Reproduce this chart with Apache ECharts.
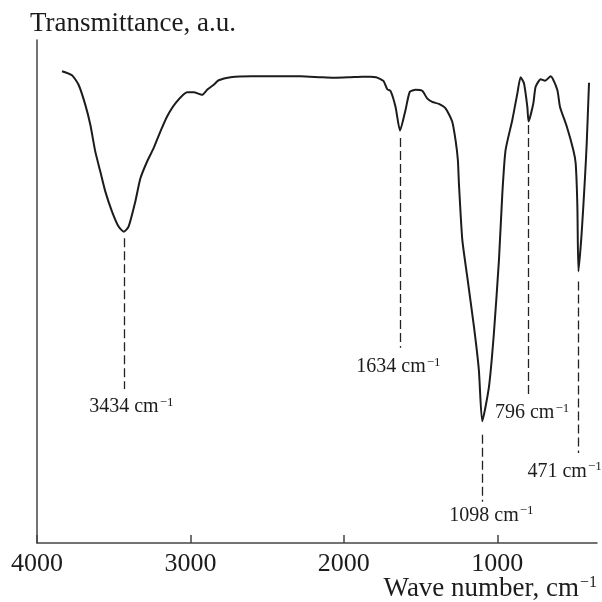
<!DOCTYPE html>
<html>
<head>
<meta charset="utf-8">
<script src="https://cdn.jsdelivr.net/npm/echarts@6/dist/echarts.min.js"></script>
<style>
html,body{margin:0;padding:0;background:#fff;}
#chart{width:602px;height:602px;}
</style>
</head>
<body>
<div id="chart"></div>
<script>
// Spectrum (wave number, cm^-1 ; transmittance, a.u.)
var waveNumbers = [3837,3772,3729,3685,3652,3620,3587,3555,3511,3468,3434,3403,3359,3326,3283,3240,3196,3152,3098,3022,2979,2924,2891,2848,2816,2739,2600,2450,2283,2150,2065,1957,1880,1826,1790,1761,1740,1717,1696,1663,1634,1598,1570,1533,1489,1457,1424,1381,1337,1294,1272,1257,1250,1228,1196,1152,1120,1098,1054,1022,989,967,946,902,869,848,826,804,796,765,750,717,689,652,609,591,547,504,489,478,471,450,428,417,402];
var transmittance = [93.8,93.0,91.1,87.1,83.1,77.8,73.8,69.9,65.9,62.9,61.9,62.9,67.9,72.5,75.8,78.5,81.8,84.8,87.4,89.6,89.6,89.1,90.1,91.1,92.0,92.6,92.8,92.8,92.8,92.6,92.5,92.6,92.7,92.7,92.6,92.2,91.8,90.2,89.9,86.7,82.0,86.1,89.7,90.1,89.9,88.4,87.7,87.3,86.4,83.8,80.1,76.2,71.5,60.3,53.0,43.0,34.4,24.2,31.1,41.7,56.3,69.5,78.1,84.1,89.4,92.6,91.4,86.7,83.8,87.4,90.7,92.2,91.9,92.8,90.1,86.7,82.8,78.1,75.5,67.0,54.0,61.6,72.8,79.5,91.5];

// Peak annotations
var peakWave = [3434, 1634, 1098, 796, 471];
var peakText = ['3434', '1634', '1098', '796', '471'];
var guideTop = [60.6, 80.5, 21.5, 83.1, 52.0];
var guideBottom = [30.6, 38.8, 8.2, 28.9, 17.9];
var labelWave = [3385, 1644, 1038, 773, 561];
var labelValue = [27.1, 35.0, 5.5, 25.8, 14.2];

// Axis ticks
var xTicks = [4000, 3000, 2000, 1000];
var xMin = 350, xMax = 4000;
var yMin = 0, yMax = 100;

var serif = 'Liberation Serif, Times New Roman, serif';
var ink = '#1c1c1c';

var lineData = waveNumbers.map(function (w, i) { return [w, transmittance[i]]; });

var guides = peakWave.map(function (w, i) {
  return [{ coord: [w, guideTop[i]] }, { coord: [w, guideBottom[i]] }];
});

var peakLabels = peakWave.map(function (w, i) {
  return {
    coord: [labelWave[i], labelValue[i]],
    value: peakText[i],
    label: { formatter: '{m|' + peakText[i] + ' cm}{s|\u22121}' }
  };
});

var chart = echarts.init(document.getElementById('chart'), null, { renderer: 'canvas' });
chart.setOption({
  animation: false,
  backgroundColor: '#ffffff',
  title: [
    {
      text: 'Transmittance, a.u.',
      left: 25,
      top: 5,
      textStyle: { fontFamily: serif, fontSize: 27, fontWeight: 'normal', color: ink, lineHeight: 27 }
    },
    {
      text: '{m|Wave number, cm}{s|\u22121}',
      right: 0,
      top: 570,
      textStyle: {
        fontFamily: serif, fontSize: 27, fontWeight: 'normal', color: ink,
        rich: {
          m: { fontFamily: serif, fontSize: 27, color: ink, lineHeight: 27 },
          s: { fontFamily: serif, fontSize: 16, color: ink, lineHeight: 27, verticalAlign: 'top', padding: [0, 0, 10, 1] }
        }
      }
    }
  ],
  grid: { left: 37, right: 5, top: 40, bottom: 59, containLabel: false },
  xAxis: {
    type: 'value',
    inverse: true,
    min: xMin,
    max: xMax,
    axisLine: { show: true, lineStyle: { color: '#444', width: 1.5 } },
    axisTick: { show: true, inside: true, length: 8, customValues: xTicks, lineStyle: { color: '#444', width: 1.5 } },
    axisLabel: {
      customValues: xTicks,
      formatter: function (v) { return String(v); },
      fontFamily: serif, fontSize: 26, color: ink, margin: 8
    },
    splitLine: { show: false }
  },
  yAxis: {
    type: 'value',
    min: yMin,
    max: yMax,
    axisLine: { show: true, lineStyle: { color: '#444', width: 1.5 } },
    axisTick: { show: false },
    axisLabel: { show: false },
    splitLine: { show: false }
  },
  series: [{
    type: 'line',
    data: lineData,
    showSymbol: false,
    smooth: 0.2,
    lineStyle: { color: ink, width: 2 },
    markLine: {
      silent: true,
      symbol: ['none', 'none'],
      label: { show: false },
      lineStyle: { color: '#222', width: 1.3, type: [9, 4] },
      data: guides
    },
    markPoint: {
      silent: true,
      symbol: 'circle',
      symbolSize: 1,
      itemStyle: { color: 'rgba(0,0,0,0)' },
      label: {
        show: true,
        position: 'inside',
        color: ink,
        rich: {
          m: { fontFamily: serif, fontSize: 20, color: ink, lineHeight: 22 },
          s: { fontFamily: serif, fontSize: 13, color: ink, lineHeight: 22, verticalAlign: 'top', padding: [0, 0, 8, 1] }
        }
      },
      data: peakLabels
    }
  }]
});
</script>
</body>
</html>
